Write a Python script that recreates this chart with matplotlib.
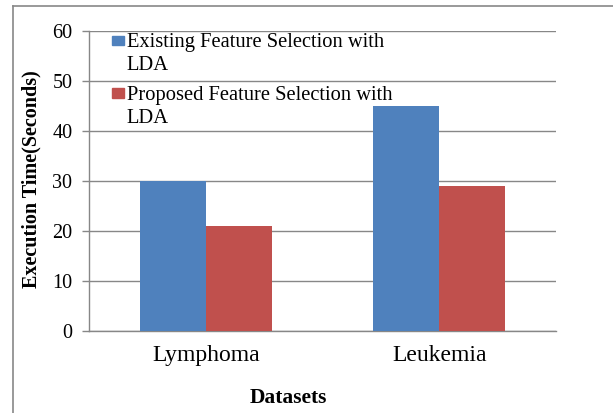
import matplotlib
matplotlib.use("Agg")
import matplotlib.pyplot as plt
from matplotlib.lines import Line2D
from matplotlib.patches import Rectangle
import numpy as np

categories = ["Lymphoma", "Leukemia"]
series_names = ["Existing Feature Selection with\nLDA", "Proposed Feature Selection with\nLDA"]
existing = [30, 45]
proposed = [21, 29]
yticks = [0, 10, 20, 30, 40, 50, 60]
colors = ["#4F81BD", "#C0504D"]

plt.rcParams['font.family'] = ['Liberation Serif', 'DejaVu Serif']

fig = plt.figure(figsize=(6.13, 4.13), dpi=100)
ax = fig.add_axes([89/613, 1-331/413, (556-89)/613, 300/413])

x = np.arange(len(categories))
w = 0.283
ax.bar(x - w/2, existing, width=w, color=colors[0], zorder=3)
ax.bar(x + w/2, proposed, width=w, color=colors[1], zorder=3)

ax.set_xlim(-0.5, 1.5)
ax.set_ylim(0, 60)
ax.set_yticks(yticks)
ax.set_xticks(x)
ax.set_xticklabels(categories, fontsize=17)
ax.tick_params(axis='x', length=0, pad=10)
ax.tick_params(axis='y', length=5, color='#878787', width=1, labelsize=14.5, pad=7)
ax.yaxis.grid(True, color='#878787', linewidth=1, zorder=0)
ax.set_axisbelow(True)
for s in ['top', 'right']:
    ax.spines[s].set_visible(False)
for s in ['left', 'bottom']:
    ax.spines[s].set_color('#878787')
    ax.spines[s].set_linewidth(1)

ax.set_ylabel("Execution Time(Seconds)", fontsize=14.5, fontweight='bold')
ax.yaxis.set_label_coords(-0.102, 0.507)
fig.text(288/613, 1-398/413, "Datasets", fontsize=15.5, fontweight='bold', ha='center', va='center')

# legend (manual, handle aligned with first line)
leg_y = [0.968, 0.793]
for name, c, yy in zip(series_names, colors, leg_y):
    ax.add_patch(Rectangle((0.049, yy - 0.016), 0.026, 0.032, transform=ax.transAxes,
                           color=c, clip_on=False, zorder=5))
    ax.text(0.081, yy + 0.025, name, transform=ax.transAxes, fontsize=14.8,
            ha='left', va='top', linespacing=1.3, zorder=5)

# outer border lines
fig.add_artist(Line2D([13/613, 13/613], [0, 1-6/413], color='#888888', lw=1.2, transform=fig.transFigure))
fig.add_artist(Line2D([13/613, 1], [1-6/413, 1-6/413], color='#888888', lw=1.2, transform=fig.transFigure))

fig.savefig("out.png", dpi=100)
